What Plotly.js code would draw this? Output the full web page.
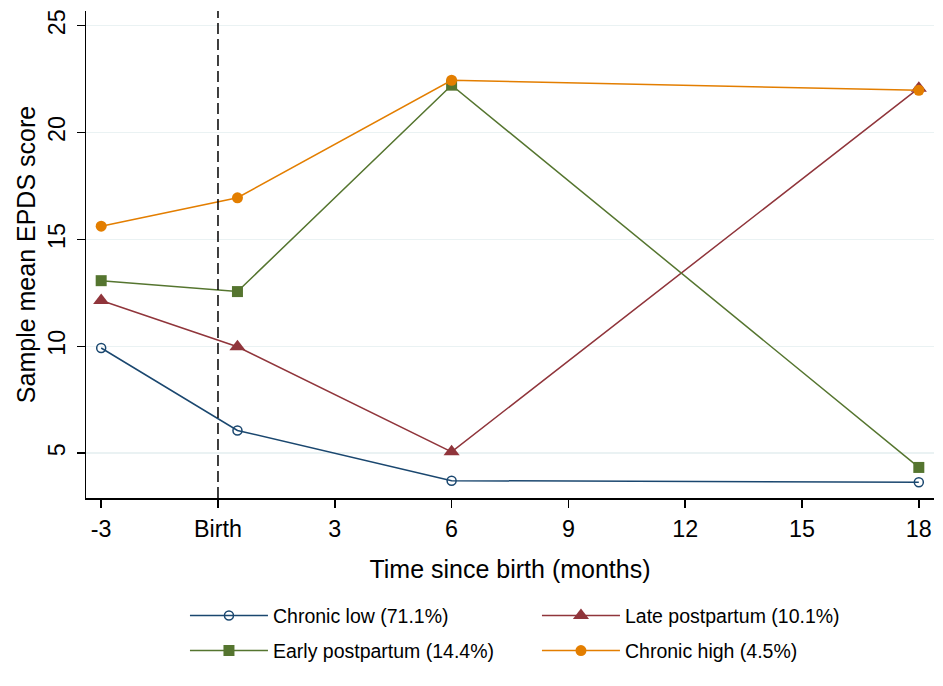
<!DOCTYPE html>
<html>
<head>
<meta charset="utf-8">
<script src="https://cdn.plot.ly/plotly-3.0.1.min.js"></script>
<style>html,body{margin:0;padding:0;background:#fff;}#chart{width:943px;height:686px;}</style>
</head>
<body>
<div id="chart"></div>
<script>
// Data
var months = [-3, 0.5, 6, 18];
var chronicLow = [9.92, 6.06, 3.71, 3.64];
var latePostpartum = [12.14, 9.98, 5.06, 22.08];
var earlyPostpartum = [13.07, 12.56, 22.22, 4.33];
var chronicHigh = [15.62, 16.95, 22.45, 21.98];

var seriesNames = ["Chronic low (71.1%)", "Late postpartum (10.1%)", "Early postpartum (14.4%)", "Chronic high (4.5%)"];
var xTickVals = [-3, 0, 3, 6, 9, 12, 15, 18];
var xTickText = ["-3", "Birth", "3", "6", "9", "12", "15", "18"];
var yTickVals = [5, 10, 15, 20, 25];
var birthMonth = 0;

var FONT = "Liberation Sans, Arial, sans-serif";

function tr(y, name, color, symbol, size, legendName, extraMarker) {
  var marker = {color: color, symbol: symbol, size: size, line: {width: 0, color: color}};
  if (extraMarker) { for (var k in extraMarker) marker[k] = extraMarker[k]; }
  return {
    x: months, y: y, name: name, type: "scatter", mode: "lines+markers",
    line: {color: color, width: 1.5},
    marker: marker,
    legend: legendName
  };
}

var traces = [
  tr(chronicLow, seriesNames[0], "#1a476f", "circle-open", 9, "legend", {line: {width: 1.5, color: "#1a476f"}}),
  tr(latePostpartum, seriesNames[1], "#90353b", "triangle-up", 14, "legend"),
  tr(earlyPostpartum, seriesNames[2], "#55752f", "square", 11, "legend2"),
  tr(chronicHigh, seriesNames[3], "#e37e00", "circle", 11, "legend2")
];

var legendCommon = {
  orientation: "h", xanchor: "left", yanchor: "middle",
  font: {family: FONT, size: 19.5, color: "#000"},
  bgcolor: "rgba(0,0,0,0)", borderwidth: 0,
  itemwidth: 78, entrywidth: 259, entrywidthmode: "pixels",
  itemclick: false, itemdoubleclick: false
};
var legend1 = Object.assign({}, legendCommon, {x: 0.1167, y: -0.242});
var legend2 = Object.assign({}, legendCommon, {x: 0.1167, y: -0.314});

var layout = {
  width: 943, height: 686,
  paper_bgcolor: "#fff", plot_bgcolor: "#fff",
  margin: {l: 86, r: 9, t: 11, b: 188},
  font: {family: FONT, color: "#000"},
  showlegend: true,
  legend: legend1,
  legend2: legend2,
  xaxis: {
    range: [-3.39, 18.39],
    tickvals: xTickVals, ticktext: xTickText,
    ticks: "outside", ticklen: 8, tickwidth: 1.5, tickcolor: "#000",
    ticklabelstandoff: 2,
    showline: true, linecolor: "#000", linewidth: 1.5,
    showgrid: false, zeroline: false,
    tickfont: {family: FONT, size: 23.3, color: "#000"},
    title: {text: "Time since birth (months)", font: {family: FONT, size: 25, color: "#000"}, standoff: 19},
    automargin: false
  },
  yaxis: {
    range: [2.9, 25.69],
    tickvals: yTickVals,
    tickangle: -90,
    ticks: "outside", ticklen: 8, tickwidth: 1.5, tickcolor: "#000",
    ticklabelstandoff: 2,
    showline: true, linecolor: "#000", linewidth: 1.5,
    showgrid: true, gridcolor: "#eaf2f3", gridwidth: 1.5, zeroline: false,
    tickfont: {family: FONT, size: 23.3, color: "#000"},
    title: {text: "Sample mean EPDS score", font: {family: FONT, size: 25, color: "#000"}, standoff: 1},
    automargin: false
  },
  shapes: [{
    type: "line", xref: "x", yref: "paper",
    x0: birthMonth, x1: birthMonth, y0: 0, y1: 1,
    line: {color: "#000", width: 1.5, dash: "11px,5px"},
    layer: "above"
  }]
};

Plotly.newPlot("chart", traces, layout, {displayModeBar: false, staticPlot: true});
</script>
</body>
</html>
